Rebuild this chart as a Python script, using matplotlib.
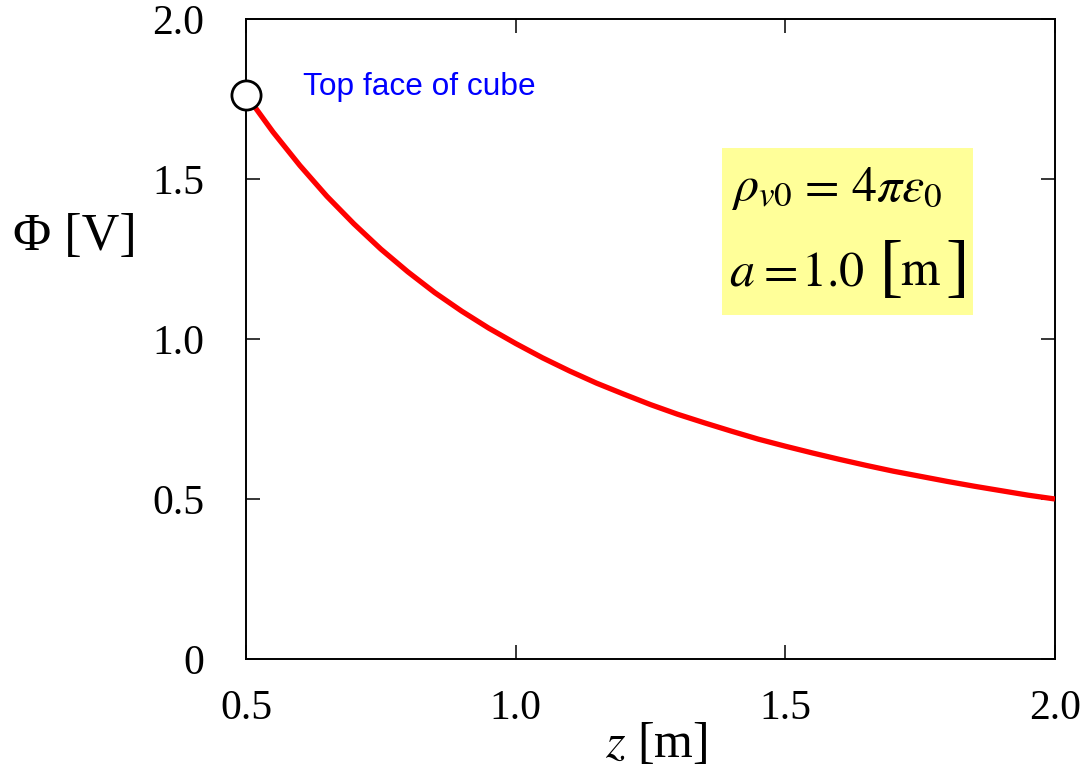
import matplotlib
matplotlib.use("Agg")
import matplotlib.pyplot as plt
from matplotlib.patches import Rectangle

# ---- data ----
z_vals = [0.50, 0.55, 0.60, 0.65, 0.70, 0.75, 0.80, 0.85, 0.90, 0.95, 1.00,
          1.05, 1.10, 1.15, 1.20, 1.25, 1.30, 1.35, 1.40, 1.45, 1.50,
          1.55, 1.60, 1.65, 1.70, 1.75, 1.80, 1.85, 1.90, 1.95, 2.00]
phi_vals = [1.763, 1.647, 1.542, 1.446, 1.360, 1.281, 1.210, 1.145, 1.087, 1.034, 0.986,
            0.941, 0.900, 0.862, 0.828, 0.795, 0.765, 0.738, 0.712, 0.687, 0.665,
            0.644, 0.624, 0.605, 0.587, 0.571, 0.555, 0.540, 0.526, 0.512, 0.500]
face_z = [0.5]
face_phi = [1.763]
x_ticks = [0.5, 1.0, 1.5, 2.0]
x_ticklabels = ["0.5", "1.0", "1.5", "2.0"]
y_ticks = [0.0, 0.5, 1.0, 1.5, 2.0]
y_ticklabels = ["0", "0.5", "1.0", "1.5", "2.0"]
annot_text = "Top face of cube"

plt.rcParams["font.family"] = ["Liberation Serif", "DejaVu Serif"]
plt.rcParams["mathtext.fontset"] = "stix"

W, H = 1080, 770
L, R, T, B = 246, 1055, 19, 659
fig = plt.figure(figsize=(W/100, H/100), dpi=100)
ax = fig.add_axes([L/W, 1 - B/H, (R - L)/W, (B - T)/H])


def pa(xp, yp):
    """pixel position (from top-left) -> axes fraction"""
    return (xp - L)/(R - L), (B - yp)/(B - T)


ax.plot(z_vals, phi_vals, color="#ff0000", lw=3.8, solid_capstyle="butt",
        solid_joinstyle="round", zorder=3)
ax.plot(face_z, face_phi, "o", ms=21, mfc="white", mec="black", mew=2.0,
        clip_on=False, zorder=5)

ax.set_xlim(0.5, 2.0)
ax.set_ylim(0.0, 2.0)
ax.set_xticks(x_ticks)
ax.set_xticklabels(x_ticklabels)
ax.set_yticks(y_ticks)
ax.set_yticklabels(y_ticklabels)
ax.tick_params(direction="in", length=10, width=1.1, top=True, right=True,
               labelsize=30)
ax.tick_params(axis="y", pad=30)
ax.tick_params(axis="x", pad=22)
for s in ax.spines.values():
    s.set_linewidth(1.4)

ax.set_ylabel("Φ [V]", fontsize=37.5, rotation=0, ha="center", va="center")
ax.yaxis.set_label_coords(*pa(75, 237))
ax.set_xlabel(r"$z$ [m]", fontsize=36, ha="center", va="center")
ax.xaxis.set_label_coords(*pa(656, 745))

ax.text(*pa(303, 87), annot_text, transform=ax.transAxes,
        color="#0000ff", fontsize=22.8, family=["Liberation Sans", "DejaVu Sans"],
        ha="left", va="center")

# parameter box
x0, y1 = pa(722, 148)
x1, y0 = pa(973, 315)
ax.add_patch(Rectangle((x0, y0), x1 - x0, y1 - y0, transform=ax.transAxes,
                       facecolor="#ffff99", edgecolor="none", zorder=1))

pieces = [
    (r"$\rho_{v0}$", 731, 200, 36, None),
    (r"$=$", 797, 200, 36, None),
    (r"$4\pi\varepsilon_0$", 851, 200, 36, None),
    (r"$a$", 729, 285, 36, None),
    (r"$=$", 756, 285, 36, None),
    (r"$1.0$", 801, 285, 36, None),
    ("[", 880, 289, 50, ["Liberation Serif"]),
    (r"$\mathrm{m}$", 900, 285, 36, None),
    ("]", 945, 289, 50, ["Liberation Serif"]),
]
for txt, xp, yp, fs, fam in pieces:
    kw = {} if fam is None else {"family": fam}
    ax.text(*pa(xp, yp), txt, transform=ax.transAxes, fontsize=fs,
            ha="left", va="baseline", zorder=2, **kw)

fig.savefig("out.png", dpi=100)
